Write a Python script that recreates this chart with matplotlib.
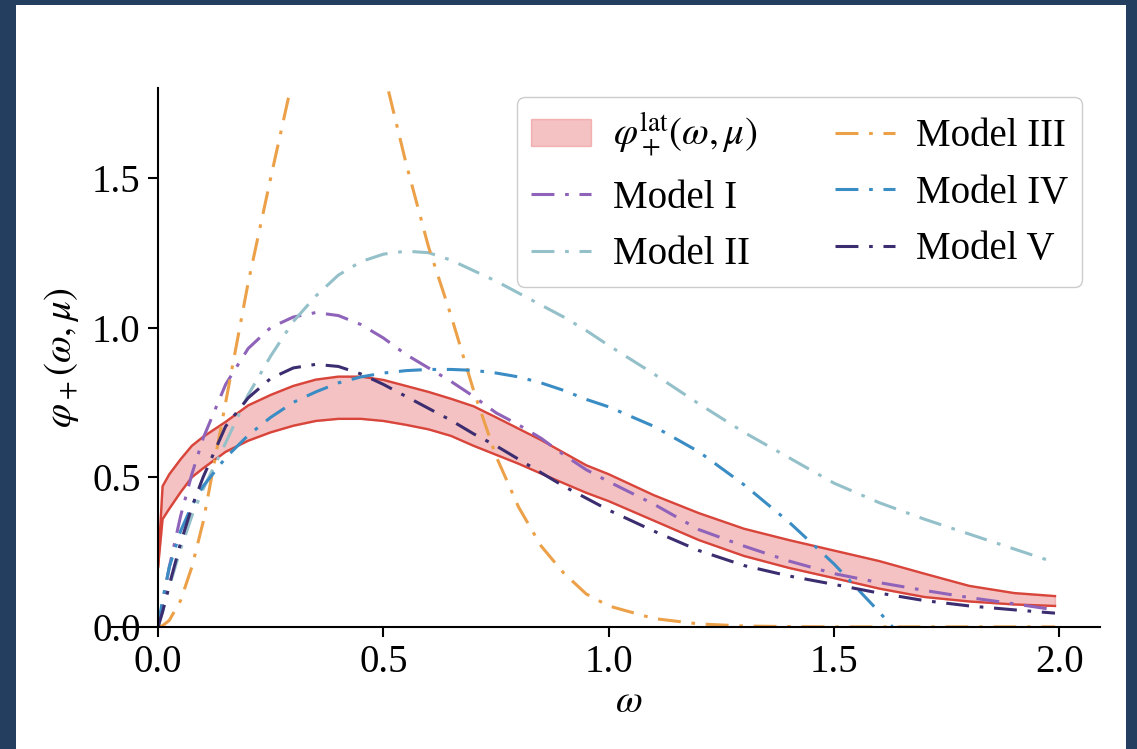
import numpy as np
import matplotlib.pyplot as plt
from matplotlib.patches import Rectangle

# omega grid shared by all curves
omega = [0.0, 0.01, 0.025, 0.05, 0.075, 0.1, 0.15, 0.2, 0.25, 0.3, 0.35, 0.4, 0.45,
         0.5, 0.55, 0.6, 0.65, 0.7, 0.75, 0.8, 0.85, 0.9, 0.95, 1.0, 1.1, 1.2, 1.3,
         1.4, 1.5, 1.6, 1.7, 1.8, 1.9, 1.99]

# lattice band
lat_upper = [0.2, 0.47, 0.51, 0.56, 0.605, 0.635, 0.685, 0.74, 0.775, 0.805, 0.826, 0.836, 0.836,
             0.825, 0.805, 0.785, 0.762, 0.737, 0.70, 0.662, 0.624, 0.582, 0.54, 0.51, 0.44, 0.38, 0.328,
             0.29, 0.255, 0.22, 0.178, 0.137, 0.113, 0.103]
lat_lower = [0.2, 0.36, 0.395, 0.45, 0.50, 0.53, 0.585, 0.622, 0.65, 0.672, 0.688, 0.695, 0.695,
             0.688, 0.675, 0.66, 0.638, 0.605, 0.575, 0.545, 0.512, 0.48, 0.448, 0.42, 0.355, 0.29, 0.237,
             0.197, 0.163, 0.128, 0.10, 0.085, 0.075, 0.07]

model_1 = [0.0, 0.08, 0.2, 0.37, 0.51, 0.63, 0.81, 0.93, 1.0, 1.035, 1.05, 1.04, 1.01,
           0.965, 0.91, 0.865, 0.82, 0.77, 0.715, 0.675, 0.63, 0.575, 0.525, 0.485, 0.41, 0.325, 0.27,
           0.22, 0.178, 0.148, 0.122, 0.098, 0.077, 0.057]
model_2 = [0.0, 0.05, 0.135, 0.26, 0.37, 0.46, 0.615, 0.775, 0.905, 1.02, 1.105, 1.175, 1.22,
           1.245, 1.255, 1.25, 1.225, 1.19, 1.155, 1.115, 1.075, 1.035, 0.99, 0.94, 0.845, 0.745, 0.65,
           0.565, 0.48, 0.415, 0.36, 0.31, 0.26, 0.215]
model_3 = [0.0, 0.004, 0.022, 0.088, 0.2, 0.35, 0.75, 1.15, 1.5, 1.84, 2.1, 2.22, 2.12,
           1.86, 1.55, 1.27, 1.04, 0.79, 0.57, 0.4, 0.27, 0.18, 0.11, 0.07, 0.028, 0.01, 0.003,
           0.001, 0.0, 0.0, 0.0, 0.0, 0.0, 0.0]
model_4 = [0.0, 0.09, 0.2, 0.32, 0.405, 0.47, 0.565, 0.64, 0.70, 0.75, 0.785, 0.815, 0.835,
           0.848, 0.856, 0.86, 0.86, 0.857, 0.848, 0.835, 0.815, 0.79, 0.76, 0.735, 0.67, 0.585, 0.475,
           0.35, 0.21, 0.05, -0.12, -0.32, -0.55, -0.78]
model_5 = [0.0, 0.05, 0.14, 0.28, 0.40, 0.5, 0.67, 0.765, 0.83, 0.865, 0.877, 0.87, 0.845,
           0.81, 0.77, 0.73, 0.69, 0.645, 0.605, 0.56, 0.515, 0.47, 0.43, 0.39, 0.32, 0.255, 0.205,
           0.17, 0.142, 0.113, 0.088, 0.07, 0.057, 0.046]

model_names = ['Model I', 'Model II', 'Model III', 'Model IV', 'Model V']
model_colors = ['#8e63b9', '#94c0c9', '#eca048', '#3a8cc4', '#3b2d70']

plt.rcParams['font.family'] = ['Liberation Serif', 'DejaVu Serif']
plt.rcParams['mathtext.fontset'] = 'stix'
plt.rcParams['font.size'] = 28

fig = plt.figure(figsize=(11.37, 7.49), dpi=100, facecolor='#243e5f')
fig.patches.append(Rectangle((16 / 1137, 0), 1110 / 1137, 744 / 749, transform=fig.transFigure,
                             facecolor='white', edgecolor='none', zorder=-1))
ax = fig.add_axes([0.139, 0.163, 0.8285, 0.7195])
ax.set_facecolor('none')

red = '#d8453a'
band = ax.fill_between(omega, lat_lower, lat_upper, color='#e8686a', alpha=0.4, lw=1,
                       label=r'$\varphi_+^{\mathrm{lat}}(\omega,\mu)$')
ax.plot(omega, lat_upper, color=red, lw=1.7)
ax.plot(omega, lat_lower, color=red, lw=1.7)

handles = [band]
for vals, name, col in zip([model_1, model_2, model_3, model_4, model_5], model_names, model_colors):
    h, = ax.plot(omega, vals, color=col, lw=2.2, ls=(0, (7.5, 3.5, 1.2, 3.5)), label=name)
    handles.append(h)

ax.set_xlim(0, 2.09)
ax.set_ylim(0, 1.8)
ax.set_xticks([0.0, 0.5, 1.0, 1.5, 2.0])
ax.set_yticks([0.0, 0.5, 1.0, 1.5])
ax.spines['top'].set_visible(False)
ax.spines['right'].set_visible(False)
for s in ['left', 'bottom']:
    ax.spines[s].set_linewidth(1.5)
ax.tick_params(length=7.5, width=1.5, pad=5)
ax.yaxis.get_major_ticks()[0].tick1line.set_markersize(34)

ax.set_xlabel(r'$\omega$', labelpad=2)
ax.set_ylabel(r'$\varphi_+(\omega,\mu)$', labelpad=8)

ax.legend(handles=handles, ncol=2, loc='upper right', bbox_to_anchor=(0.981, 0.983),
          borderaxespad=0, handlelength=1.55, handletextpad=0.55, columnspacing=2.0,
          labelspacing=0.5, borderpad=0.35, framealpha=1, edgecolor='#cccccc')

fig.savefig('out.png', dpi=100, facecolor=fig.get_facecolor())
